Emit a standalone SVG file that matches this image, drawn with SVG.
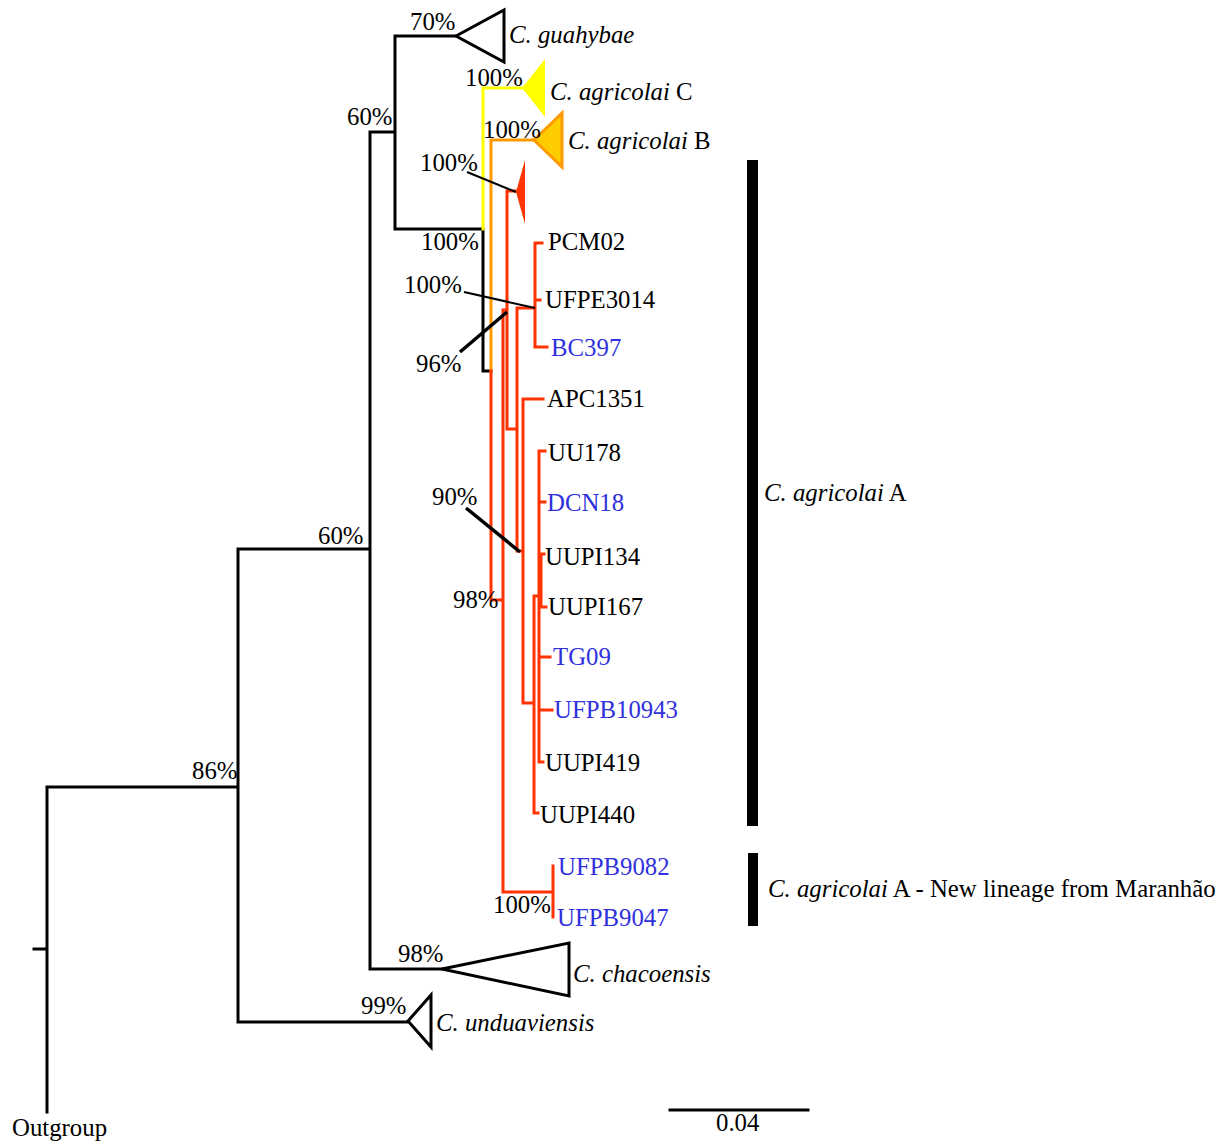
<svg xmlns="http://www.w3.org/2000/svg" width="1227" height="1143" viewBox="0 0 1227 1143">
<style>
text{font-family:"Liberation Serif","Times New Roman",serif;font-size:24.8px;fill:#000}
.b{fill:#3030dd}
.i{font-style:italic}
.k{stroke:#000;stroke-width:3;fill:none;stroke-linecap:square}
.r{stroke:#ff3300;stroke-width:3;fill:none;stroke-linecap:square}
.o{stroke:#ff9900;stroke-width:3;fill:none;stroke-linecap:square}
.y{stroke:#ffff00;stroke-width:3;fill:none;stroke-linecap:square}
.p{stroke:#000;stroke-width:2;fill:none}
.pt{stroke:#000;stroke-width:3.5;fill:none}
</style>
<rect width="1227" height="1143" fill="#fff"/>
<g id="connectors">
<path class="k" d="M34,949H47M47,787V1112M47,787H238M238,549V1022M238,549H370M238,1022H408M370,132V969M370,132H395M370,969H442M395,36V229M395,36H456M395,229H483V371H491"/>
<path class="y" d="M483,229V88H522"/>
<path class="o" d="M491,371V140H534"/>
<path class="r" d="M491,371V600H503M503,310V892H553M553,866V917M503,310H507M507,191V429M507,191H516M507,429H517M517,308V551M517,308H535M535,243V347M535,243H542M535,300H540M535,347H547M517,551H523M523,399V703M523,399H543M523,703H534M534,596V813M534,813H538M534,596H539M539,451V762M539,451H545M539,502H545M539,657H550M539,710H552M539,762H543M541,554V607M539,554H544M539,607H546"/>
<path class="p" d="M467,172L516,192M464,292L535,308"/>
<path class="pt" d="M460,352L507,312M466,508L520,552"/>
<path class="k" d="M670,1110H808"/>
</g>
<g id="n-guahybae"><polygon points="456,36 504,10 504,62" fill="#fff" stroke="#000" stroke-width="3"/><text x="410" y="30">70%</text><text x="509" y="43" class="i">C. guahybae</text></g>
<g id="n-agricolaiC"><polygon points="522,88 545,59 545,117" fill="#ffff00"/><text x="465" y="86">100%</text><text x="550" y="100"><tspan class="i">C. agricolai</tspan> C</text></g>
<g id="n-agricolaiB"><polygon points="534,140 562,113 562,167" fill="#ffcc00" stroke="#ff9900" stroke-width="3"/><text x="483" y="138">100%</text><text x="568" y="149"><tspan class="i">C. agricolai</tspan> B</text></g>
<g id="n-redclade"><polygon points="516,192 525,160 525,224" fill="#ff3300"/><text x="420" y="171">100%</text></g>
<g id="n-sup"><text x="347" y="125">60%</text><text x="421" y="250">100%</text><text x="404" y="293">100%</text><text x="416" y="372">96%</text><text x="432" y="505">90%</text><text x="453" y="608">98%</text><text x="493" y="913">100%</text><text x="318" y="544">60%</text><text x="192" y="779">86%</text></g>
<g id="n-PCM02"><text x="548" y="250">PCM02</text></g>
<g id="n-UFPE3014"><text x="545" y="308">UFPE3014</text></g>
<g id="n-BC397"><text x="551" y="356" class="b">BC397</text></g>
<g id="n-APC1351"><text x="547" y="407">APC1351</text></g>
<g id="n-UU178"><text x="548" y="461">UU178</text></g>
<g id="n-DCN18"><text x="547" y="511" class="b">DCN18</text></g>
<g id="n-UUPI134"><text x="545" y="565">UUPI134</text></g>
<g id="n-UUPI167"><text x="548" y="615">UUPI167</text></g>
<g id="n-TG09"><text x="553" y="665" class="b">TG09</text></g>
<g id="n-UFPB10943"><text x="554" y="718" class="b">UFPB10943</text></g>
<g id="n-UUPI419"><text x="545" y="771">UUPI419</text></g>
<g id="n-UUPI440"><text x="540" y="823">UUPI440</text></g>
<g id="n-UFPB9082"><text x="558" y="875" class="b">UFPB9082</text></g>
<g id="n-UFPB9047"><text x="557" y="926" class="b">UFPB9047</text></g>
<g id="n-chacoensis"><polygon points="442,969 569,943 569,996" fill="#fff" stroke="#000" stroke-width="3"/><text x="398" y="962">98%</text><text x="573" y="982" class="i">C. chacoensis</text></g>
<g id="n-unduaviensis"><polygon points="408,1021 431,995 431,1047" fill="#fff" stroke="#000" stroke-width="3"/><text x="361" y="1014">99%</text><text x="436" y="1031" class="i">C. unduaviensis</text></g>
<g id="n-outgroup"><text x="12" y="1136">Outgroup</text></g>
<g id="n-scale"><text x="716" y="1131">0.04</text></g>
<g id="n-cladeA"><rect x="747" y="160" width="11" height="666" fill="#000"/><text x="764" y="501"><tspan class="i">C. agricolai</tspan> A</text></g>
<g id="n-cladeM"><rect x="748" y="853" width="10" height="73" fill="#000"/><text x="768" y="897"><tspan class="i">C. agricolai</tspan> A - New lineage from Maranhão</text></g>
</svg>
